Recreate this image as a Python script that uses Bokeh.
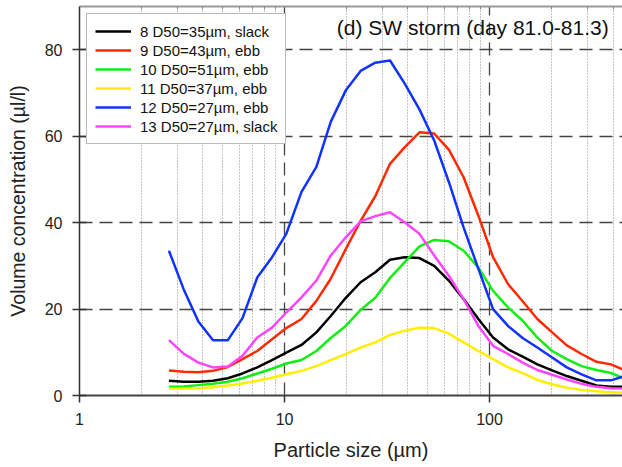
from bokeh.plotting import figure
from bokeh.models import FixedTicker, Label, LogAxis, Range1d
from bokeh.embed import file_html
from bokeh.resources import INLINE

# Particle size bins (µm)
sizes = [2.73, 3.22, 3.80, 4.48, 5.29, 6.24, 7.36, 8.69, 10.2, 12.1, 14.3, 16.8,
         19.9, 23.5, 27.7, 32.7, 38.5, 45.5, 53.7, 63.3, 74.7, 88.2, 104, 123,
         145, 171, 202, 238, 281, 332, 391, 462]

s8 = [3.4, 3.2, 3.2, 3.4, 4.0, 5.1, 6.5, 8.2, 9.9, 11.7, 14.6, 18.4, 22.6, 26.2, 28.5, 31.4,
      32.0, 31.8, 30.0, 26.6, 22.3, 17.7, 13.4, 10.7, 9.0, 7.2, 5.8, 4.5, 3.4, 2.3, 2.0, 2.0]
s9 = [5.8, 5.5, 5.4, 5.7, 6.6, 8.4, 10.3, 13.0, 15.6, 17.7, 21.9, 27.0, 33.9, 40.4, 46.1, 53.6,
      57.4, 60.9, 60.6, 56.9, 50.5, 41.6, 32.0, 25.8, 21.8, 17.7, 14.6, 11.6, 9.6, 7.8, 7.2, 5.7]
s10 = [2.0, 2.1, 2.4, 2.7, 3.2, 4.0, 5.1, 6.2, 7.4, 8.2, 10.3, 13.3, 16.1, 19.8, 22.6, 27.2,
       30.8, 34.5, 36.0, 35.7, 33.5, 29.6, 24.2, 20.4, 17.3, 13.4, 10.3, 8.4, 6.8, 5.9, 5.2, 3.8]
s11 = [1.6, 1.6, 1.7, 1.9, 2.3, 2.8, 3.4, 4.1, 4.9, 5.7, 6.8, 8.2, 9.6, 11.1, 12.3, 14.0,
       15.0, 15.7, 15.6, 14.3, 12.3, 10.3, 8.4, 6.5, 5.2, 3.6, 2.6, 1.8, 1.3, 1.0, 0.7, 0.7]
s12 = [33.5, 24.6, 17.1, 12.8, 12.8, 17.9, 27.3, 32.0, 37.4, 47.1, 52.9, 63.3, 70.6, 75.1, 77.0, 77.5,
       72.2, 66.2, 59.0, 49.4, 38.9, 29.3, 20.0, 16.1, 13.3, 11.1, 8.8, 6.5, 4.9, 3.5, 3.5, 4.6]
s13 = [12.8, 9.7, 7.6, 6.5, 6.7, 9.2, 13.4, 15.7, 19.2, 22.7, 26.6, 32.4, 36.6, 40.3, 41.5, 42.4,
       40.1, 37.4, 32.4, 27.7, 22.3, 16.1, 11.5, 9.6, 7.6, 5.9, 4.8, 3.7, 2.7, 2.0, 1.7, 1.6]

series = [s8, s9, s10, s11, s12, s13]
labels = ["8 D50=35\u00b5m, slack", "9 D50=43\u00b5m, ebb", "10 D50=51\u00b5m, ebb",
          "11 D50=37\u00b5m, ebb", "12 D50=27\u00b5m, ebb", "13 D50=27\u00b5m, slack"]
colors = ["#000000", "#ff2a00", "#11ee11", "#ffee00", "#1133ff", "#ff44ff"]

x_major = [1, 10, 100]
x_major_labels = ["1", "10", "100"]
x_minor = [2, 3, 4, 5, 6, 7, 8, 9, 20, 30, 40, 50, 60, 70, 80, 90, 200, 300, 400]
y_major = [0, 20, 40, 60, 80]

title_text = "(d) SW storm (day 81.0-81.3)"
FONT = "Liberation Sans"

p = figure(width=622, height=467, x_axis_type="log",
           x_range=Range1d(1, 445), y_range=Range1d(0, 90),
           output_backend="svg", toolbar_location=None,
           min_border_left=79, min_border_right=0, min_border_top=6, min_border_bottom=72)
p.outline_line_color = None
p.background_fill_color = "white"
p.border_fill_color = "white"

xt = FixedTicker(ticks=x_major, minor_ticks=x_minor)
yt = FixedTicker(ticks=y_major, minor_ticks=[])

xa = p.xaxis[0]
xa.ticker = xt
xa.major_label_overrides = {t: s for t, s in zip(x_major, x_major_labels)}
xa.axis_label = "Particle size (\u00b5m)"
xa.axis_label_text_font = FONT
xa.axis_label_text_font_size = "20px"
xa.axis_label_text_font_style = "normal"
xa.axis_label_text_color = "#222222"
xa.axis_label_standoff = 11
xa.major_label_text_font = FONT
xa.major_label_text_font_size = "16px"
xa.major_label_text_color = "#222222"
xa.major_label_standoff = 10
xa.major_tick_out = 7
xa.major_tick_in = 0
xa.major_tick_line_color = "#333333"
xa.major_tick_line_width = 1.5
xa.minor_tick_line_color = None
xa.axis_line_color = "#444444"
xa.axis_line_width = 2

ya = p.yaxis[0]
ya.ticker = yt
ya.axis_label = "Volume concentration (\u00b5l/l)"
ya.axis_label_text_font = FONT
ya.axis_label_text_font_size = "19.5px"
ya.axis_label_text_font_style = "normal"
ya.axis_label_text_color = "#222222"
ya.axis_label_standoff = 13
ya.major_label_text_font = FONT
ya.major_label_text_font_size = "16px"
ya.major_label_text_color = "#222222"
ya.major_label_standoff = 10
ya.major_tick_out = 7
ya.major_tick_in = 7
ya.major_tick_line_color = "#333333"
ya.major_tick_line_width = 1.5
ya.minor_tick_line_color = None
ya.axis_line_color = "#333333"
ya.axis_line_width = 1.5

top = LogAxis(ticker=FixedTicker(ticks=x_major, minor_ticks=x_minor),
              major_label_text_font_size="1px", major_label_text_alpha=0.0,
              major_label_standoff=0,
              major_tick_in=0, major_tick_out=0, minor_tick_in=3, minor_tick_out=0,
              minor_tick_line_color="#888888", axis_line_color="#999999", axis_line_width=2)
p.add_layout(top, "above")

p.xgrid.ticker = xt
p.xgrid.grid_line_color = "#444444"
p.xgrid.grid_line_dash = "13 7"
p.xgrid.grid_line_width = 1.3
p.xgrid.minor_grid_line_color = "#888888"
p.xgrid.minor_grid_line_dash = "1 2"
p.xgrid.minor_grid_line_width = 1

p.ygrid.ticker = yt
p.ygrid.grid_line_color = "#444444"
p.ygrid.grid_line_dash = "13 7"
p.ygrid.grid_line_width = 1.3

for ys, lab, col in zip(series, labels, colors):
    p.line(sizes, ys, line_color=col, line_width=2.5, line_join="round", legend_label=lab)

p.add_layout(Label(x=381, y=85.2, text=title_text, text_align="right", text_baseline="middle",
                   text_font=FONT, text_font_size="21px", text_color="#111111"))

lg = p.legend[0]
lg.location = "top_left"
lg.margin = 7
lg.padding = 8
lg.spacing = 1
lg.label_height = 18
lg.glyph_height = 18
lg.glyph_width = 36
lg.label_standoff = 9
lg.label_text_font = FONT
lg.label_text_font_size = "15px"
lg.label_text_color = "#111111"
lg.border_line_color = "#777777"
lg.border_line_width = 1.5
lg.background_fill_color = "white"
lg.background_fill_alpha = 1.0

open("out.html", "w").write(file_html(p, INLINE))
